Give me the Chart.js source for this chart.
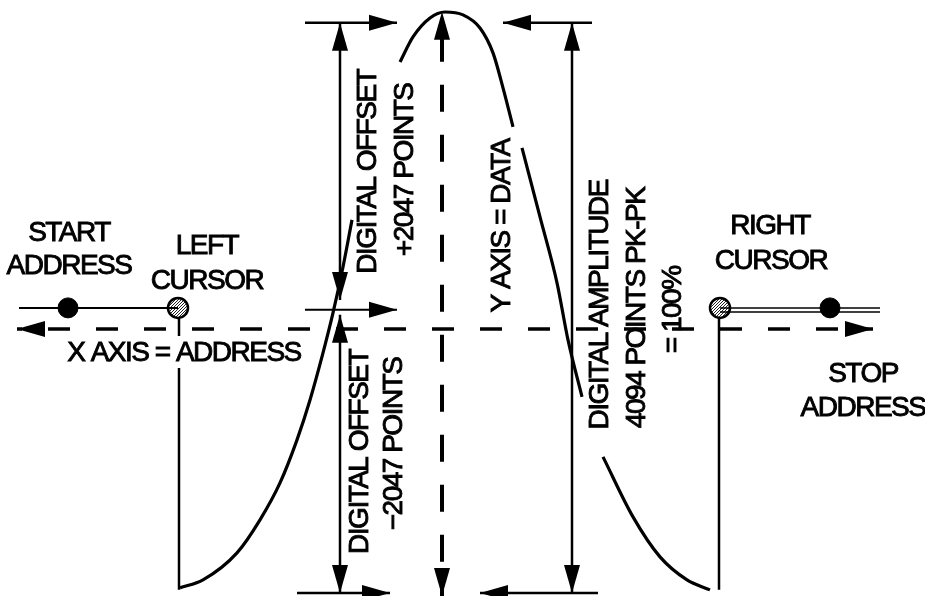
<!DOCTYPE html>
<html>
<head>
<meta charset="utf-8">
<title>Address / data diagram</title>
<script src="https://cdn.jsdelivr.net/npm/chart.js@4.4.1/dist/chart.umd.min.js"></script>
<style>
html, body { margin: 0; padding: 0; background: #fff; }
#wrap { width: 925px; height: 596px; }
</style>
</head>
<body>
<div id="wrap"><canvas id="diagram"></canvas></div>
<script>
// Waveform: address along x, data counts along y (null = break under the lettering)
const waveAddress = [180, 203, 237, 260, 280, 297, 310, 323, 333, 343, 352, null,
    400, 413, 430, 445, 463, 480, 493, 503, 513, null,
    522, 540, 557, 568, 582, null,
    603, 633, 660, 687, 710];
const waveData = [-2010, -1953, -1759, -1522, -1257, -948, -661, -323, -36, 294, 632, null,
    1766, 1946, 2082, 2125, 2104, 2010, 1831, 1580, 1300, null,
    1149, 653, 180, -230, -639, null,
    -1070, -1501, -1788, -1953, -2025];

// Axes of the diagram
const xAxisAddress = [17, 873];
const xAxisData = [-151, -151];
const yAxisAddress = [442, 442];
const yAxisData = [2126, -2069];

// Start/stop markers and cursors
const endMarkAddress = [68, 830];
const endMarkData = [0, 0];
const cursorAddress = [178, 720];
const cursorData = [0, 0];
const leftTraceAddress = [19, 178];
const rightTraceAddress = [720, 880];
const leftCursorUpper = [-72, -201];
const leftCursorLower = [-431, -2025];
const rightCursorData = [-72, -2025];

// Dimension lines (+2047 / -2047 / 4094 pk-pk)
const offsetLeftAddress = [305, 397];
const offsetBottomAddress = [297, 390];
const offsetStemAddress = [340, 340];
const offsetUpperStem = [2047, 57];
const offsetLowerStem = [-50, -2047];
const offsetMidData = [-14, -14];
const ampTopAddress = [592, 503];
const ampBottomAddress = [598, 480];
const ampStemAddress = [572, 572];
const ampStemData = [2047, -2047];
const fullTop = [2047, 2047];
const fullBottom = [-2047, -2047];

// Lettering: text, anchor address, anchor data, rotated?
const labelText = ['START', 'ADDRESS', 'LEFT', 'CURSOR', 'X AXIS = ADDRESS',
    'RIGHT', 'CURSOR', 'STOP', 'ADDRESS',
    'DIGITAL OFFSET', '+2047 POINTS', 'Y AXIS = DATA',
    'DIGITAL AMPLITUDE', '4094 POINTS PK-PK', '= 100%',
    'DIGITAL OFFSET', '\u22122047 POINTS'];
const labelAddress = [69, 69, 207, 207, 184, 770, 771, 863, 863,
    367, 404, 501, 599, 636, 672, 359, 393];
const labelData = [546, 309, 452, 201, -316, 596, 345, -467, -711,
    977, 991, 589, 22, 0, -14, -1034, -977];
const labelVertical = [false, false, false, false, false, false, false, false, false,
    true, true, true, true, true, true, true, true];

function pts(xs, ys) {
    return xs.map((x, i) => ({ x: x, y: ys[i] }));
}

// gray dotted fill for the cursor markers
function dotPattern() {
    const c = document.createElement('canvas');
    c.width = 3; c.height = 3;
    const g = c.getContext('2d');
    g.fillStyle = '#fff';
    g.fillRect(0, 0, 3, 3);
    g.fillStyle = '#222';
    g.fillRect(0, 0, 1, 1);
    g.fillRect(2, 1, 1, 1);
    g.fillRect(1, 2, 1, 1);
    return g.createPattern(c, 'repeat');
}

function seg(xs, ys, extra) {
    return Object.assign({
        data: pts(xs, ys),
        borderColor: '#000',
        borderWidth: 3,
        pointRadius: 0,
        tension: 0,
        borderCapStyle: 'butt'
    }, extra || {});
}

const arrowPlugin = {
    id: 'arrowHeads',
    afterDatasetsDraw(chart) {
        const ctx = chart.ctx;
        chart.data.datasets.forEach((ds, i) => {
            if (!ds.arrow) return;
            const p = chart.getDatasetMeta(i).data;
            const a = p[0], b = p[p.length - 1];
            const head = (tip, from) => {
                const ang = Math.atan2(tip.y - from.y, tip.x - from.x);
                const len = 28, half = 8;
                ctx.save();
                ctx.translate(tip.x, tip.y);
                ctx.rotate(ang);
                ctx.beginPath();
                ctx.moveTo(0, 0);
                ctx.lineTo(-len, -half);
                ctx.lineTo(-len, half);
                ctx.closePath();
                ctx.fillStyle = '#000';
                ctx.fill();
                ctx.restore();
            };
            if (ds.arrow === 'end' || ds.arrow === 'both') head(b, a);
            if (ds.arrow === 'start' || ds.arrow === 'both') head(a, b);
        });
    }
};

const labelPlugin = {
    id: 'lettering',
    afterDraw(chart) {
        const ctx = chart.ctx;
        const xs = chart.scales.x, ys = chart.scales.y;
        ctx.save();
        ctx.fillStyle = '#000';
        ctx.strokeStyle = '#000';
        ctx.lineWidth = 0.9;
        ctx.font = '28px "Liberation Sans", Arial, sans-serif';
        ctx.letterSpacing = '-1.5px';
        ctx.textAlign = 'center';
        ctx.textBaseline = 'middle';
        labelText.forEach((t, i) => {
            const px = xs.getPixelForValue(labelAddress[i]);
            const py = ys.getPixelForValue(labelData[i]);
            ctx.save();
            ctx.translate(px, py);
            if (labelVertical[i]) ctx.rotate(-Math.PI / 2);
            ctx.fillText(t, 0, 1);
            ctx.strokeText(t, 0, 1);
            ctx.restore();
        });
        ctx.restore();
    }
};

const pattern = dotPattern();

new Chart(document.getElementById('diagram'), {
    type: 'line',
    data: {
        datasets: [
            seg(waveAddress, waveData, { cubicInterpolationMode: 'monotone', borderWidth: 3.2 }),
            seg(xAxisAddress, xAxisData, { borderDash: [22, 26], borderDashOffset: 17, borderWidth: 3.5, arrow: 'both' }),
            seg(yAxisAddress, yAxisData, { borderDash: [27, 23], borderDashOffset: 27, borderWidth: 4, arrow: 'both' }),
            seg(leftTraceAddress, cursorData, { borderWidth: 2 }),
            seg(rightTraceAddress, [0, 0], { borderWidth: 1.5 }),
            seg(rightTraceAddress, [-29, -29], { borderWidth: 1.5 }),
            seg([179, 179], leftCursorUpper, { borderWidth: 2.5 }),
            seg([179, 179], leftCursorLower, { borderWidth: 2.5 }),
            seg([719, 719], rightCursorData, { borderWidth: 2.5 }),
            seg(offsetLeftAddress, fullTop, { arrow: 'end', borderWidth: 2.5 }),
            seg(offsetStemAddress, offsetUpperStem, { arrow: 'both', borderWidth: 2.5 }),
            seg(offsetLeftAddress, offsetMidData, { arrow: 'end', borderWidth: 2 }),
            seg(offsetStemAddress, offsetLowerStem, { arrow: 'both', borderWidth: 2.5 }),
            seg(offsetBottomAddress, fullBottom, { arrow: 'end', borderWidth: 2.5 }),
            seg(ampTopAddress, fullTop, { arrow: 'end', borderWidth: 2.5 }),
            seg(ampStemAddress, ampStemData, { arrow: 'both', borderWidth: 2.5 }),
            seg(ampBottomAddress, fullBottom, { arrow: 'end', borderWidth: 2.5 }),
            {
                data: pts(endMarkAddress, endMarkData),
                showLine: false,
                pointRadius: 10,
                pointBackgroundColor: '#000',
                pointBorderColor: '#000',
                pointBorderWidth: 1
            },
            {
                data: pts(cursorAddress, cursorData),
                showLine: false,
                pointRadius: 10,
                pointBackgroundColor: pattern,
                pointBorderColor: '#000',
                pointBorderWidth: 2.5
            }
        ]
    },
    options: {
        responsive: true,
        maintainAspectRatio: false,
        animation: false,
        devicePixelRatio: 1,
        layout: { padding: 0, autoPadding: false },
        clip: false,
        plugins: {
            legend: { display: false },
            tooltip: { enabled: false }
        },
        scales: {
            x: { type: 'linear', min: 0, max: 925, display: false },
            y: { type: 'linear', min: -2069, max: 2211, display: false }
        }
    },
    plugins: [arrowPlugin, labelPlugin]
});
</script>
</body>
</html>
